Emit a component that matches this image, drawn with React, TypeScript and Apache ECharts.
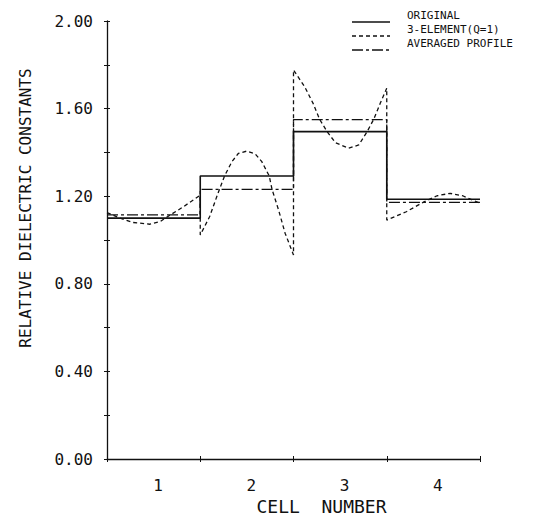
import React, { useEffect, useRef } from "react";
import * as echarts from "echarts";

const cellLabels = ["1", "2", "3", "4"];
const cellEdges = [0.5, 1.5, 2.5, 3.5, 4.5];
const originalValues = [1.1, 1.292, 1.495, 1.186];
const averagedValues = [1.115, 1.231, 1.55, 1.172];
const threeElementX = [
  0.5, 0.64, 0.78, 0.96, 1.07, 1.14, 1.32, 1.5,
  1.5, 1.6, 1.69, 1.76, 1.84, 1.91, 2.0, 2.09, 2.16, 2.24, 2.27, 2.34, 2.41, 2.5,
  2.5, 2.62, 2.71, 2.78, 2.86, 2.95, 3.09, 3.2, 3.29, 3.36, 3.43, 3.5,
  3.5, 3.71, 3.89, 4.04, 4.18, 4.32, 4.5,
];
const threeElementY = [
  1.125, 1.1, 1.08, 1.072, 1.084, 1.104, 1.152, 1.205,
  1.023, 1.106, 1.213, 1.292, 1.358, 1.396, 1.406, 1.393, 1.358, 1.292, 1.231, 1.137, 1.031, 0.932,
  1.776, 1.7, 1.624, 1.551, 1.495, 1.444, 1.419, 1.434, 1.495, 1.551, 1.624, 1.693,
  1.091, 1.129, 1.172, 1.202, 1.213, 1.201, 1.168,
];
const seriesNames = ["ORIGINAL", "3-ELEMENT(Q=1)", "AVERAGED PROFILE"];

const FONT = "'DejaVu Sans Mono', monospace";
const INK = "#111";
const dashes: (number[] | null)[] = [null, [4, 3], [11, 3, 3, 3]];
const widths = [1.6, 1.3, 1.3];

function stepData(values: number[]) {
  const out: number[][] = [];
  values.forEach((v, i) => {
    out.push([cellEdges[i], v]);
    out.push([cellEdges[i + 1], v]);
  });
  return out;
}

export default function App() {
  const ref = useRef<HTMLDivElement>(null);
  useEffect(() => {
    if (!ref.current) return;
    const chart = echarts.init(ref.current, null, { renderer: "svg" });
    const lineBase = { type: "line", xAxisIndex: 2, yAxisIndex: 0, symbol: "none", showSymbol: false, animation: false };
    const legendElements: any[] = [];
    seriesNames.forEach((name, i) => {
      const lineY = 22 + i * 14;
      const textY = 15 + i * 14;
      legendElements.push({
        type: "line",
        shape: { x1: 352, y1: lineY, x2: 390, y2: lineY },
        style: { stroke: INK, lineWidth: widths[i], lineDash: dashes[i] || undefined },
      });
      legendElements.push({
        type: "text",
        x: 407,
        y: textY,
        style: { text: name, fill: INK, font: `11px ${FONT}`, verticalAlign: "middle", align: "left" },
      });
    });
    chart.setOption({
      animation: false,
      backgroundColor: "#ffffff",
      grid: { left: 107, top: 21, right: 67, bottom: 66, containLabel: false },
      graphic: legendElements,
      xAxis: [
        {
          type: "category",
          position: "bottom",
          data: cellLabels,
          boundaryGap: true,
          axisLine: { lineStyle: { color: INK, width: 1.3 } },
          axisTick: { show: true, length: 3, lineStyle: { color: INK } },
          axisLabel: { fontFamily: FONT, fontSize: 16, color: INK, margin: 18, padding: [0, 0, 0, 9] },
          splitLine: { show: false },
          name: "CELL  NUMBER",
          nameLocation: "middle",
          nameGap: 37,
          nameTextStyle: { fontFamily: FONT, fontSize: 18, color: INK, padding: [0, 0, 0, 56] },
        },
        {
          type: "category",
          position: "bottom",
          data: cellLabels,
          boundaryGap: true,
          axisLine: { show: false },
          axisTick: { show: true, inside: true, length: 3, lineStyle: { color: INK } },
          axisLabel: { show: false },
          splitLine: { show: false },
        },
        {
          type: "value",
          position: "bottom",
          min: 0.5,
          max: 4.5,
          show: false,
          splitLine: { show: false },
        },
      ],
      yAxis: [
        {
          type: "value",
          position: "left",
          min: 0,
          max: 2,
          interval: 0.4,
          axisLine: { show: true, lineStyle: { color: INK, width: 1.3 } },
          axisTick: { show: true, length: 3, lineStyle: { color: INK } },
          minorTick: { show: true, splitNumber: 2, length: 3, lineStyle: { color: INK } },
          axisLabel: {
            fontFamily: FONT,
            fontSize: 16,
            color: INK,
            margin: 14,
            formatter: (v: number) => v.toFixed(2),
          },
          splitLine: { show: false },
          name: "RELATIVE DIELECTRIC CONSTANTS",
          nameLocation: "middle",
          nameRotate: 90,
          nameGap: 74,
          nameTextStyle: { fontFamily: FONT, fontSize: 16, color: INK, padding: [0, 0, 0, 64] },
        },
        {
          type: "value",
          position: "left",
          min: 0,
          max: 2,
          interval: 0.4,
          axisLine: { show: false },
          axisTick: { show: true, inside: true, length: 3, lineStyle: { color: INK } },
          minorTick: { show: true, splitNumber: 2, length: 3, lineStyle: { color: INK } },
          axisLabel: { show: false },
          splitLine: { show: false },
        },
      ],
      series: [
        {
          ...lineBase,
          name: seriesNames[0],
          data: stepData(originalValues),
          lineStyle: { color: INK, width: widths[0], type: "solid" },
          itemStyle: { color: INK },
        },
        {
          ...lineBase,
          name: seriesNames[1],
          data: threeElementX.map((x, i) => [x, threeElementY[i]]),
          lineStyle: { color: INK, width: widths[1], type: dashes[1] },
          itemStyle: { color: INK },
        },
        {
          ...lineBase,
          name: seriesNames[2],
          data: stepData(averagedValues),
          lineStyle: { color: INK, width: widths[2], type: dashes[2] },
          itemStyle: { color: INK },
        },
      ],
    });
    return () => chart.dispose();
  }, []);
  return <div ref={ref} style={{ width: 547, height: 525, position: "absolute", left: 0, top: 0 }} />;
}
